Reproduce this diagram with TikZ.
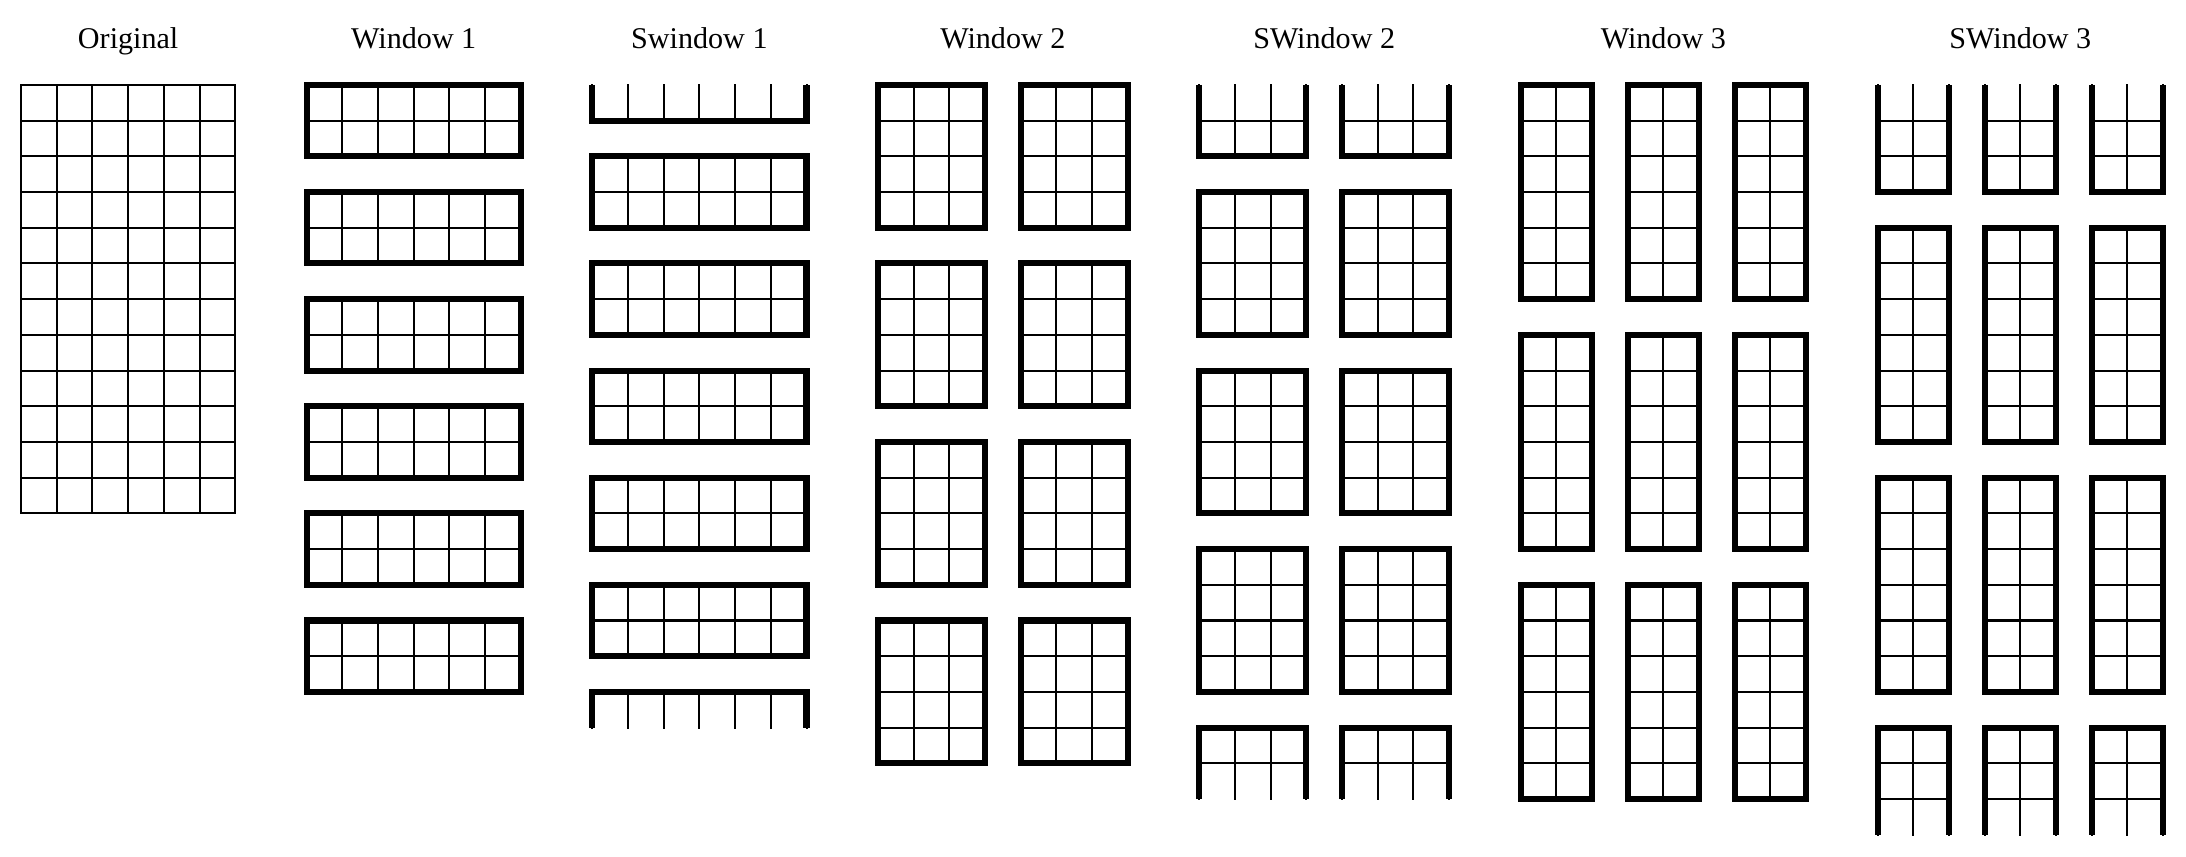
\documentclass[tikz,border=0pt]{standalone}
\usepackage{fontspec}
\setmainfont{Liberation Serif}
\usepackage{tikz}
\tikzstyle{cell} = [line width=1.6pt, line cap=rect]
\tikzstyle{rim} = [line width=4.8pt, line join=miter]
\tikzstyle{heading} = [anchor=base, inner sep=0pt, font=\fontsize{24}{28}\selectfont]
% #1 column, #2 row, #3 width, #4 height
\newcommand*{\fullwin}[4]{%
    \draw [cell] (#1,-#2) grid (#1+#3,-#2-#4);
    \draw [rim] (#1,-#2) rectangle (#1+#3,-#2-#4);
}
\newcommand*{\topwin}[4]{%
    \foreach \i in {0,...,#3} \draw [cell] (#1+\i,-#2) -- ++(0,-#4);
    \foreach \j in {1,...,#4} \draw [cell] (#1,-#2-\j) -- ++(#3,0);
    \draw [rim] (#1,-#2) |- (#1+#3,-#2-#4) -- ++(0,#4);
}
\newcommand*{\botwin}[4]{%
    \foreach \i in {0,...,#3} \draw [cell] (#1+\i,-#2) -- ++(0,-#4);
    \foreach \j in {1,...,#4} \draw [cell] (#1,-#2-\j+1) -- ++(#3,0);
    \draw [rim] (#1,-#2-#4) |- (#1+#3,-#2) -- ++(0,-#4);
}

\begin{document}
\begin{tikzpicture}
    \useasboundingbox (-0.59,2.38) rectangle (60.64,-21.6);

    % Titles.
    \node (title original) [heading] at (3,1.01) {Original};
    \node (title window 1) [heading] at (11,1.01) {Window 1};
    \node (title swindow 1) [heading] at (19,1.01) {Swindow 1};
    \node (title window 2) [heading] at (27.5,1.01) {Window 2};
    \node (title swindow 2) [heading] at (36.5,1.01) {SWindow 2};
    \node (title window 3) [heading] at (46,1.01) {Window 3};
    \node (title swindow 3) [heading] at (56,1.01) {SWindow 3};

    % Original.
    \draw [cell] (0,0) grid (6,-12);

    % Window 1 and Swindow 1.
    \foreach \r in {0,3,...,15} {\fullwin{8}{\r}{6}{2}}
    \topwin{16}{0}{6}{1}
    \foreach \r in {2,5,...,14} {\fullwin{16}{\r}{6}{2}}
    \botwin{16}{17}{6}{1}

    % Window 2 and SWindow 2.
    \foreach \c in {24,28} {%
        \foreach \r in {0,5,10,15} {\fullwin{\c}{\r}{3}{4}}
    }
    \foreach \c in {33,37} {%
        \topwin{\c}{0}{3}{2}
        \foreach \r in {3,8,13} {\fullwin{\c}{\r}{3}{4}}
        \botwin{\c}{18}{3}{2}
    }

    % Window 3 and SWindow 3.
    \foreach \c in {42,45,48} {%
        \foreach \r in {0,7,14} {\fullwin{\c}{\r}{2}{6}}
    }
    \foreach \c in {52,55,58} {%
        \topwin{\c}{0}{2}{3}
        \foreach \r in {4,11} {\fullwin{\c}{\r}{2}{6}}
        \botwin{\c}{18}{2}{3}
    }
\end{tikzpicture}
\end{document}
